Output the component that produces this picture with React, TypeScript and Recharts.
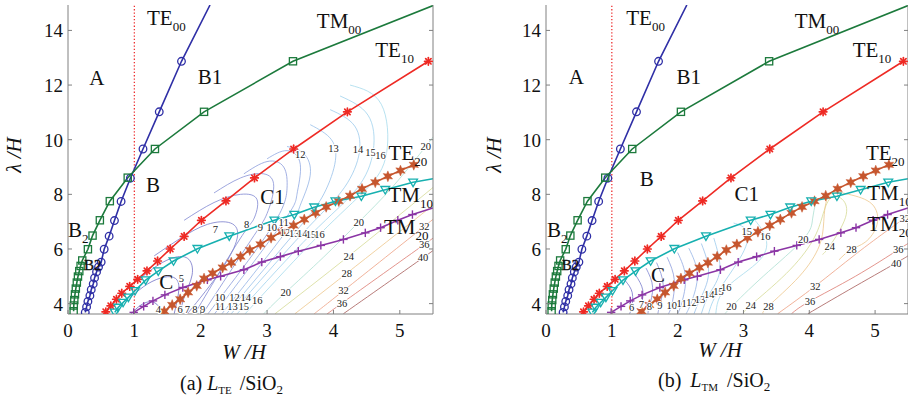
import React from 'react';
import { ComposedChart, Line, XAxis, YAxis, ReferenceLine, ReferenceDot } from 'recharts';

type Pt = [number, number];

const SERIF = '"Liberation Serif", "DejaVu Serif", serif';
const AXIS = '#808080';
const INK = '#111';

const X_DOMAIN: [number, number] = [0, 5.5];
const Y_DOMAIN: [number, number] = [3.62, 14.93];
const X_TICKS = [0, 1, 2, 3, 4, 5];
const Y_TICKS = [4, 6, 8, 10, 12, 14];
const CUTOFF_W = 1;

// mode cut-off curves, same in both panels (W/H, lambda/H)
const TE00: Pt[] = [[0.26, 3.68], [0.28, 3.88], [0.3, 4.08], [0.33, 4.29], [0.35, 4.51], [0.38, 4.72], [0.4, 4.94], [0.43, 5.16], [0.46, 5.34], [0.5, 5.52], [0.545, 5.99], [0.62, 6.47], [0.7, 7.04], [0.8, 7.74], [0.94, 8.59], [1.13, 9.66], [1.375, 11.02], [1.71, 12.87]];
const TE00_END: Pt = [2.14, 14.93];
const TM00: Pt[] = [[0.085, 3.72], [0.087, 3.93], [0.095, 4.13], [0.105, 4.34], [0.118, 4.55], [0.133, 4.77], [0.15, 4.99], [0.17, 5.19], [0.19, 5.38], [0.215, 5.58], [0.3, 5.99], [0.37, 6.49], [0.48, 7.05], [0.63, 7.75], [0.9, 8.61], [1.31, 9.66], [2.05, 11.02], [3.39, 12.87]];
const TM00_END: Pt = [5.5, 14.91];
const TE10: Pt[] = [[0.57, 3.7], [0.645, 3.92], [0.73, 4.16], [0.81, 4.38], [0.93, 4.63], [1.05, 4.89], [1.19, 5.2], [1.35, 5.56], [1.54, 6.0], [1.75, 6.46], [2.01, 7.05], [2.38, 7.76], [2.81, 8.6], [3.4, 9.66], [4.21, 11.02], [5.43, 12.87]];
const TE20: Pt[] = [[1.45, 3.72], [1.57, 3.95], [1.69, 4.16], [1.81, 4.41], [1.94, 4.65], [2.05, 4.92], [2.18, 5.11], [2.33, 5.32], [2.46, 5.5], [2.6, 5.72], [2.74, 5.96], [2.9, 6.17], [3.06, 6.41], [3.22, 6.63], [3.4, 6.86], [3.56, 7.08], [3.73, 7.32], [3.89, 7.54], [4.08, 7.75], [4.25, 7.95], [4.43, 8.2], [4.63, 8.44], [4.82, 8.66], [5.01, 8.87], [5.21, 9.08]];
const TM10: Pt[] = [[0.705, 3.68], [0.755, 3.86], [0.83, 4.04], [0.91, 4.23], [1.01, 4.47], [1.17, 4.86], [1.36, 5.19], [1.59, 5.56], [1.95, 6.01], [2.43, 6.47], [3.11, 7.05], [3.41, 7.26], [3.71, 7.53], [4.03, 7.75], [4.42, 7.93], [4.78, 8.17], [5.2, 8.44]];
const TM10_END: Pt = [5.5, 8.57];
const TM20: Pt[] = [[0.99, 3.68], [1.14, 3.9], [1.28, 4.1], [1.46, 4.32], [1.73, 4.59], [2.1, 4.87], [2.3, 5.0], [2.65, 5.24], [2.92, 5.52], [3.2, 5.72], [3.47, 5.92], [3.81, 6.13], [4.15, 6.35], [4.48, 6.59], [4.71, 6.78], [4.97, 7.05], [5.19, 7.26]];
const TM20_END: Pt = [5.5, 7.5];

// contours, panel (a) L_TE
const CA4: Pt[] = [[0.95, 3.63], [1.1, 3.95], [1.25, 4.07], [1.36, 3.92], [1.42, 3.63]];
const CA5: Pt[] = [[0.95, 4.25], [1.2, 4.72], [1.45, 4.97], [1.62, 4.92], [1.67, 4.5], [1.6, 3.63]];
const CA6: Pt[] = [[1.05, 4.85], [1.35, 5.4], [1.62, 5.7], [1.82, 5.62], [1.87, 5.05], [1.76, 4.3], [1.69, 3.63]];
const CA7: Pt[] = [[1.3, 5.75], [1.7, 6.4], [2.1, 6.9], [2.45, 6.95], [2.55, 6.4], [2.3, 5.2], [1.8, 3.63]];
const CA8: Pt[] = [[1.75, 7.05], [2.2, 7.7], [2.6, 8.0], [2.85, 7.8], [2.8, 7.1], [2.6, 6.4], [1.91, 3.63]];
const CA9: Pt[] = [[2.2, 8.05], [2.6, 8.6], [2.95, 8.75], [3.1, 8.3], [3.0, 7.3], [2.75, 6.3], [2.03, 3.63]];
const CA10: Pt[] = [[2.65, 8.75], [3.0, 9.2], [3.25, 9.0], [3.3, 8.2], [3.07, 6.8], [2.11, 3.63]];
const CA11: Pt[] = [[3.0, 9.3], [3.3, 9.6], [3.5, 9.1], [3.45, 8.0], [3.24, 6.98], [2.21, 3.63]];
const CA12: Pt[] = [[3.3, 9.75], [3.55, 9.5], [3.65, 8.7], [3.5, 7.6], [3.27, 6.59], [2.32, 3.63]];
const CA13: Pt[] = [[3.65, 10.55], [3.97, 10.0], [4.02, 9.1], [3.83, 7.9], [3.41, 6.57], [2.39, 3.63]];
const CA14: Pt[] = [[3.95, 11.1], [4.32, 10.5], [4.38, 9.4], [4.12, 8.1], [3.53, 6.56], [2.46, 3.63]];
const CA15: Pt[] = [[4.1, 11.6], [4.52, 10.9], [4.6, 9.6], [4.35, 8.2], [3.66, 6.53], [2.55, 3.63]];
const CA16: Pt[] = [[4.25, 12.0], [4.72, 11.3], [4.8, 9.5], [4.5, 8.2], [3.79, 6.53], [2.67, 3.63]];
const CA20: Pt[] = [[2.95, 3.63], [3.28, 4.41], [3.85, 5.7], [4.38, 6.98], [4.9, 8.3], [5.39, 9.75], [5.5, 10.1]];
const CA24: Pt[] = [[3.12, 3.63], [4.23, 5.74], [5.5, 8.25]];
const CA28: Pt[] = [[3.42, 3.63], [4.2, 5.11], [5.5, 7.6]];
const CA32: Pt[] = [[3.71, 3.63], [4.15, 4.47], [5.37, 6.83], [5.5, 7.1]];
const CA36: Pt[] = [[3.92, 3.63], [4.13, 4.02], [5.37, 6.17], [5.5, 6.4]];
const CA40: Pt[] = [[4.15, 3.63], [5.35, 5.68], [5.5, 5.95]];

// contours, panel (b) L_TM
const CB6: Pt[] = [[1.2, 4.85], [1.31, 4.4], [1.3, 3.86], [1.27, 3.63]];
const CB7: Pt[] = [[1.36, 5.05], [1.47, 4.5], [1.45, 3.98], [1.42, 3.63]];
const CB8: Pt[] = [[1.52, 5.3], [1.62, 4.6], [1.57, 3.9], [1.55, 3.63]];
const CB9: Pt[] = [[1.68, 5.5], [1.78, 4.7], [1.73, 3.95], [1.7, 3.63]];
const CB10: Pt[] = [[1.84, 5.7], [1.95, 4.85], [1.91, 3.95], [1.86, 3.63]];
const CB11: Pt[] = [[2.0, 5.87], [2.12, 4.95], [2.06, 4.01], [2.0, 3.63]];
const CB12: Pt[] = [[2.17, 6.03], [2.3, 5.05], [2.21, 4.06], [2.13, 3.63]];
const CB13: Pt[] = [[2.36, 6.2], [2.47, 5.1], [2.34, 4.15], [2.25, 3.63]];
const CB14: Pt[] = [[2.55, 6.4], [2.64, 5.2], [2.48, 4.34], [2.36, 3.63]];
const CB15: Pt[] = [[2.85, 6.95], [3.05, 6.66], [2.98, 5.8], [2.62, 4.46], [2.47, 3.63]];
const CB16: Pt[] = [[3.15, 7.12], [3.33, 6.47], [3.25, 5.6], [2.74, 4.58], [2.58, 3.63]];
const CB20: Pt[] = [[2.72, 3.63], [2.82, 3.89], [3.3, 5.0], [3.91, 6.36], [4.05, 7.1], [4.1, 7.72]];
const CB24: Pt[] = [[3.0, 3.63], [3.11, 3.94], [3.65, 5.1], [4.05, 6.3], [4.2, 7.2], [4.32, 7.85], [4.5, 7.82], [4.55, 7.15], [4.31, 6.11], [4.2, 5.8]];
const CB28: Pt[] = [[3.3, 3.63], [3.38, 3.91], [3.85, 5.0], [4.15, 6.1], [4.22, 7.0], [4.3, 7.95], [4.6, 8.0], [4.95, 7.65], [5.03, 6.9], [4.85, 6.25], [4.64, 5.99], [4.45, 5.6]];
const CB32: Pt[] = [[3.52, 3.63], [4.09, 4.64], [4.7, 5.8], [5.2, 6.7], [5.45, 7.13], [5.5, 7.22]];
const CB36: Pt[] = [[3.73, 3.63], [4.01, 4.09], [4.7, 5.0], [5.35, 5.97], [5.5, 6.2]];
const CB40: Pt[] = [[3.98, 3.63], [4.6, 4.5], [5.32, 5.49], [5.5, 5.75]];

const CONTOURS_A: [number, Pt[]][] = [[4, CA4], [5, CA5], [6, CA6], [7, CA7], [8, CA8], [9, CA9], [10, CA10], [11, CA11], [12, CA12], [13, CA13], [14, CA14], [15, CA15], [16, CA16], [20, CA20], [24, CA24], [28, CA28], [32, CA32], [36, CA36], [40, CA40]];
const CONTOURS_B: [number, Pt[]][] = [[6, CB6], [7, CB7], [8, CB8], [9, CB9], [10, CB10], [11, CB11], [12, CB12], [13, CB13], [14, CB14], [15, CB15], [16, CB16], [20, CB20], [24, CB24], [28, CB28], [32, CB32], [36, CB36], [40, CB40]];

// contour labels [W, lambda, text]
const CLABELS_A: [number, number, string][] = [
  [1.36, 3.78, '4'], [1.71, 4.92, '5'], [1.69, 3.8, '6'], [1.8, 3.8, '7'], [1.91, 3.8, '8'], [2.03, 3.8, '9'],
  [2.29, 4.23, '10'], [2.29, 3.9, '11'], [2.51, 4.23, '12'], [2.48, 3.9, '13'], [2.68, 4.23, '14'], [2.65, 3.9, '15'], [2.85, 4.1, '16'], [3.28, 4.41, '20'],
  [2.22, 6.71, '7'], [2.69, 6.9, '8'], [2.9, 6.78, '9'], [3.07, 6.78, '10'], [3.25, 6.96, '11'], [3.27, 6.59, '12'], [3.41, 6.57, '13'], [3.53, 6.56, '14'], [3.66, 6.53, '15'], [3.79, 6.53, '16'],
  [3.5, 9.45, '12'], [4.0, 9.69, '13'], [4.37, 9.63, '14'], [4.56, 9.53, '15'], [4.71, 9.41, '16'], [5.39, 9.75, '20'],
  [4.38, 6.98, '20'], [4.23, 5.74, '24'], [4.2, 5.11, '28'], [4.15, 4.47, '32'], [4.13, 4.02, '36'], [5.37, 6.83, '32'], [5.37, 6.17, '36'], [5.35, 5.68, '40'],
];
const CLABELS_B: [number, number, string][] = [
  [1.3, 3.86, '6'], [1.45, 3.98, '7'], [1.57, 3.9, '8'], [1.73, 3.95, '9'], [1.91, 3.95, '10'], [2.06, 4.01, '11'], [2.21, 4.06, '12'], [2.34, 4.15, '13'], [2.48, 4.34, '14'], [2.62, 4.46, '15'], [2.74, 4.58, '16'],
  [2.82, 3.89, '20'], [3.11, 3.94, '24'], [3.38, 3.91, '28'],
  [3.05, 6.66, '15'], [3.33, 6.47, '16'], [3.91, 6.36, '20'], [4.31, 6.11, '24'], [4.64, 5.99, '28'], [4.09, 4.64, '32'], [4.01, 4.09, '36'],
  [5.45, 7.13, '32'], [5.35, 5.97, '36'], [5.32, 5.49, '40'],
];

// region letters [W, lambda, text] (centred)
const REGIONS_A: [number, number, string][] = [[0.435, 12.26, 'A'], [2.14, 12.29, 'B1'], [1.28, 8.34, 'B'], [3.08, 7.9, 'C1'], [1.48, 4.8, 'C']];
const REGIONS_B: [number, number, string][] = [[0.46, 12.29, 'A'], [2.17, 12.29, 'B1'], [1.53, 8.55, 'B'], [3.05, 8.0, 'C1'], [1.7, 5.05, 'C']];

// mode names [W, lambda, main, subscript] (left aligned)
const MODES_A: [number, number, string, string][] = [[1.19, 14.44, 'TE', '00'], [3.75, 14.36, 'TM', '00'], [4.63, 13.28, 'TE', '10'], [4.83, 9.5, 'TE', '20'], [4.83, 7.98, 'TM', '10'], [4.76, 6.82, 'TM', '20'], [0.0, 6.69, 'B', '2']];
const MODES_B: [number, number, string, string][] = [[1.22, 14.44, 'TE', '00'], [3.78, 14.36, 'TM', '00'], [4.66, 13.28, 'TE', '10'], [4.86, 9.5, 'TE', '20'], [4.88, 8.05, 'TM', '10'], [4.88, 6.91, 'TM', '20'], [0.015, 6.69, 'B', '2']];
const SMALL_B2_A: Pt = [0.24, 5.41];
const SMALL_B2_B: Pt = [0.24, 5.41];

const LEVEL_COLOR: Record<number, string> = {
  4: '#6c6cc0', 5: '#7070c4', 6: '#7474c8', 7: '#787ccc', 8: '#7f86d2', 9: '#8690d6', 10: '#8c9cdc', 11: '#90a8e2', 12: '#94b4e6',
  13: '#98c0ea', 14: '#9ccaec', 15: '#a0d2ee', 16: '#a6daec', 20: '#ade0d2', 24: '#d6da96', 28: '#eec68c', 32: '#eea082', 36: '#dc7a70', 40: '#a65a58',
};

const C_TE00 = '#2f2fa6';
const C_TM00 = '#1c7a3c';
const C_TE10 = '#ee2a24';
const C_TE20 = '#c6562e';
const C_TM10 = '#17b0b0';
const C_TM20 = '#8b35a5';

const toData = (pts: Pt[], end?: Pt) => {
  const d: any[] = pts.map(([x, y]) => ({ x, y }));
  if (end) d.push({ x: end[0], y: end[1], end: true });
  return d;
};

const STAR6 = Array.from({ length: 12 }, (_, i) => {
  const a = (-90 + i * 30) * Math.PI / 180;
  const r = i % 2 ? 2.6 : 5.4;
  return [r * Math.cos(a), r * Math.sin(a)];
});

function makeDot(kind: string, color: string) {
  return (p: any) => {
    const { cx, cy, index, payload } = p;
    const key = `m${index}`;
    if (cx == null || cy == null || (payload && payload.end)) return <g key={key} />;
    if (kind === 'circle') return <circle key={key} cx={cx} cy={cy} r={3.8} fill="none" stroke={color} strokeWidth={1.3} />;
    if (kind === 'square') return <rect key={key} x={cx - 3.6} y={cy - 3.6} width={7.2} height={7.2} fill="none" stroke={color} strokeWidth={1.3} />;
    if (kind === 'tri') return <polygon key={key} points={`${cx - 4.4},${cy - 3.2} ${cx + 4.4},${cy - 3.2} ${cx},${cy + 4.3}`} fill="none" stroke={color} strokeWidth={1.3} />;
    if (kind === 'hex') return <polygon key={key} points={STAR6.map(([dx, dy]) => `${cx + dx},${cy + dy}`).join(' ')} fill={color} stroke={color} strokeWidth={0.5} />;
    if (kind === 'plus') return (
      <g key={key} stroke={color} strokeWidth={1.4}>
        <line x1={cx - 4.2} y1={cy} x2={cx + 4.2} y2={cy} />
        <line x1={cx} y1={cy - 4.2} x2={cx} y2={cy + 4.2} />
      </g>
    );
    return (
      <g key={key} stroke={color} strokeWidth={1.7} strokeLinecap="round">
        <line x1={cx - 3.8} y1={cy} x2={cx + 3.8} y2={cy} />
        <line x1={cx} y1={cy - 3.8} x2={cx} y2={cy + 3.8} />
        <line x1={cx - 2.7} y1={cy - 2.7} x2={cx + 2.7} y2={cy + 2.7} />
        <line x1={cx - 2.7} y1={cy + 2.7} x2={cx + 2.7} y2={cy - 2.7} />
      </g>
    );
  };
}

const LeftTick = (p: any) => (
  <g>
    <line x1={p.x} y1={p.y} x2={p.x + 4} y2={p.y} stroke={AXIS} />
    <text x={p.x - 5} y={p.y + 7} textAnchor="end" fontFamily={SERIF} fontSize={19} fill={INK}>{p.payload.value}</text>
  </g>
);
const RightTick = (p: any) => <line x1={p.x} y1={p.y} x2={p.x - 4} y2={p.y} stroke={AXIS} />;
const BottomTick = (p: any) => (
  <g>
    <line x1={p.x} y1={p.y} x2={p.x} y2={p.y - 4} stroke={AXIS} />
    <text x={p.x} y={p.y + 23} textAnchor="middle" fontFamily={SERIF} fontSize={19} fill={INK}>{p.payload.value}</text>
  </g>
);

const textDot = (key: string, x: number, y: number, render: (cx: number, cy: number) => React.ReactElement) => (
  <ReferenceDot key={key} x={x} y={y} r={0} ifOverflow="visible" shape={(p: any) => render(p.cx, p.cy)} />
);

function Panel(props: { left: number; width: number; yw: number; rw: number; contours: [number, Pt[]][]; clabels: [number, number, string][]; regions: [number, number, string][]; modes: [number, number, string, string][]; smallB2: Pt }) {
  const { left, width, yw, rw, contours, clabels, regions, modes, smallB2 } = props;
  return (
    <div style={{ position: 'absolute', left, top: 0 }}>
      <ComposedChart width={width} height={400} margin={{ top: 5, right: 0, bottom: 0, left: 0 }}>
        <XAxis type="number" dataKey="x" domain={X_DOMAIN} ticks={X_TICKS} allowDataOverflow height={86} tickSize={0} tickMargin={0} tickLine={false} axisLine={{ stroke: AXIS }} tick={BottomTick} />
        <YAxis type="number" domain={Y_DOMAIN} ticks={Y_TICKS} allowDataOverflow width={yw} tickSize={0} tickMargin={0} tickLine={false} axisLine={{ stroke: AXIS }} tick={LeftTick} />
        <YAxis yAxisId="r" orientation="right" type="number" domain={Y_DOMAIN} ticks={Y_TICKS} allowDataOverflow width={rw} tickSize={0} tickMargin={0} tickLine={false} axisLine={{ stroke: AXIS }} tick={RightTick} />

        {contours.map(([lvl, pts], i) => (
          <Line key={`c${i}`} data={toData(pts)} dataKey="y" type="natural" stroke={LEVEL_COLOR[lvl]} strokeWidth={0.8} dot={false} activeDot={false} isAnimationActive={false} />
        ))}

        <ReferenceLine x={CUTOFF_W} stroke="#ee3030" strokeWidth={1.3} strokeDasharray="1.3 2" />

        <Line data={toData(TE00, TE00_END)} dataKey="y" type="linear" stroke={C_TE00} strokeWidth={1.6} dot={makeDot('circle', C_TE00)} activeDot={false} isAnimationActive={false} />
        <Line data={toData(TM00, TM00_END)} dataKey="y" type="linear" stroke={C_TM00} strokeWidth={1.6} dot={makeDot('square', C_TM00)} activeDot={false} isAnimationActive={false} />
        <Line data={toData(TE10)} dataKey="y" type="linear" stroke={C_TE10} strokeWidth={1.6} dot={makeDot('ast', C_TE10)} activeDot={false} isAnimationActive={false} />
        <Line data={toData(TM20, TM20_END)} dataKey="y" type="linear" stroke={C_TM20} strokeWidth={1.6} dot={makeDot('plus', C_TM20)} activeDot={false} isAnimationActive={false} />
        <Line data={toData(TE20)} dataKey="y" type="linear" stroke={C_TE20} strokeWidth={1.6} dot={makeDot('hex', C_TE20)} activeDot={false} isAnimationActive={false} />
        <Line data={toData(TM10, TM10_END)} dataKey="y" type="linear" stroke={C_TM10} strokeWidth={1.6} dot={makeDot('tri', C_TM10)} activeDot={false} isAnimationActive={false} />

        {clabels.map(([x, y, t], i) => textDot(`l${i}`, x, y, (cx, cy) => (
          <text x={cx} y={cy + 3.6} textAnchor="middle" fontFamily={SERIF} fontSize={10.5} fill="#222" stroke="#fff" strokeWidth={2} paintOrder="stroke">{t}</text>
        )))}
        {regions.map(([x, y, t], i) => textDot(`r${i}`, x, y, (cx, cy) => (
          <text x={cx} y={cy + 7} textAnchor="middle" fontFamily={SERIF} fontSize={21} fill={INK}>{t}</text>
        )))}
        {modes.map(([x, y, t, s], i) => textDot(`n${i}`, x, y, (cx, cy) => (
          <text x={cx} y={cy + 7} fontFamily={SERIF} fontSize={21} fill={INK}>
            {t}<tspan fontSize={13} dy={6}>{s}</tspan>
          </text>
        )))}
        {textDot('b2', smallB2[0], smallB2[1], (cx, cy) => (
          <text x={cx} y={cy + 5} fontFamily={SERIF} fontSize={15} fill={INK} stroke={INK} strokeWidth={0.4}>B2</text>
        ))}
      </ComposedChart>
    </div>
  );
}

export default function App() {
  return (
    <div style={{ position: 'absolute', left: 0, top: 0, width: 908, height: 400, background: '#fff', overflow: 'hidden' }}>
      <Panel left={0} width={441} yw={68} rw={8} contours={CONTOURS_A} clabels={CLABELS_A} regions={REGIONS_A} modes={MODES_A} smallB2={SMALL_B2_A} />
      <Panel left={458} width={451} yw={88} rw={1} contours={CONTOURS_B} clabels={CLABELS_B} regions={REGIONS_B} modes={MODES_B} smallB2={SMALL_B2_B} />
      <svg width={908} height={400} style={{ position: 'absolute', left: 0, top: 0, pointerEvents: 'none' }}>
        <g fontFamily={SERIF} fill={INK}>
          <text transform="translate(21,155) rotate(-90)" textAnchor="middle" fontSize={21} fontStyle="italic">λ /H</text>
          <text transform="translate(501,155) rotate(-90)" textAnchor="middle" fontSize={21} fontStyle="italic">λ /H</text>
          <text x={244} y={359} textAnchor="middle" fontSize={21} fontStyle="italic">W /H</text>
          <text x={720} y={357} textAnchor="middle" fontSize={21} fontStyle="italic">W /H</text>
          <text x={180} y={390} fontSize={20}>
            (a)<tspan dx={5} fontStyle="italic">L</tspan><tspan fontSize={11} dy={4}>TE</tspan><tspan dx={8} dy={-4}>/SiO</tspan><tspan fontSize={13} dy={4}>2</tspan>
          </text>
          <text x={658} y={387} fontSize={20}>
            (b)<tspan dx={9} fontStyle="italic">L</tspan><tspan fontSize={11} dy={4}>TM</tspan><tspan dx={9} dy={-4}>/SiO</tspan><tspan fontSize={13} dy={4}>2</tspan>
          </text>
        </g>
      </svg>
    </div>
  );
}
